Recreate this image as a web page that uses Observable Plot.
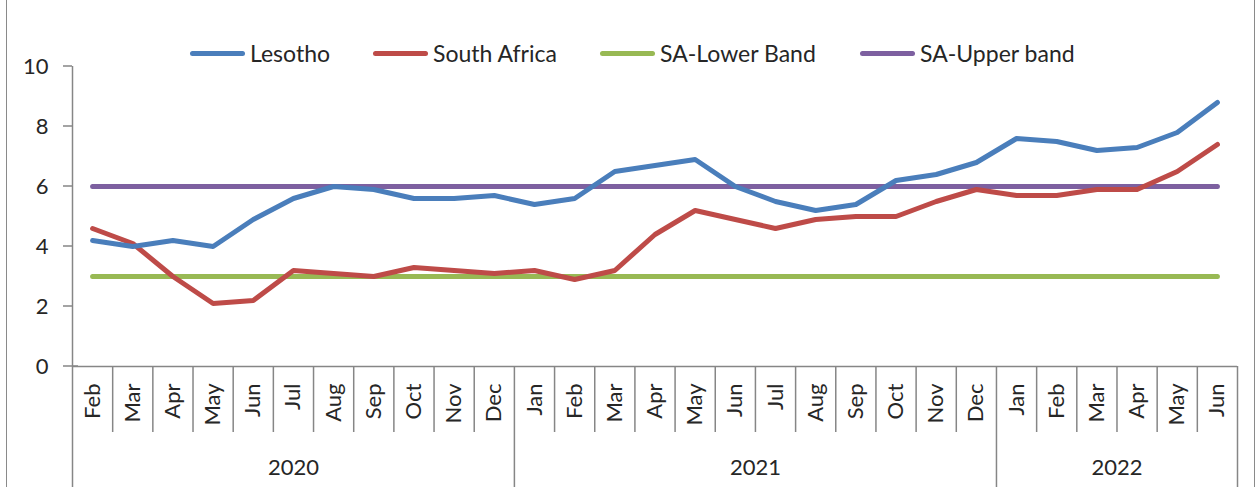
<!DOCTYPE html>
<html><head><meta charset="utf-8">
<script src="https://cdn.jsdelivr.net/npm/d3@7"></script>
<script src="https://cdn.jsdelivr.net/npm/@observablehq/plot@0.6"></script>
<style>
body{margin:0;background:#fff;}
#wrap{position:relative;width:1258px;height:487px;overflow:hidden;font-family:Lato,"Open Sans",sans-serif;color:#262626;}
#wrap svg{position:absolute;left:0;top:0;}
.frame{position:absolute;top:0;height:487px;width:0;border-left:1.5px solid #8a8a8a;}
.leg{position:absolute;top:40px;height:26px;display:flex;align-items:center;font-size:23px;white-space:nowrap;}
.leg .sw{width:55px;height:5px;border-radius:3px;margin-right:5px;}
</style></head><body><div id="wrap"></div>
<script>
const months = ["Feb","Mar","Apr","May","Jun","Jul","Aug","Sep","Oct","Nov","Dec",
  "Jan","Feb","Mar","Apr","May","Jun","Jul","Aug","Sep","Oct","Nov","Dec",
  "Jan","Feb","Mar","Apr","May","Jun"];
const yearLabels = ["2020","2021","2022"];
const yearMonthCounts = [11,12,6];
const lesotho = [4.2,4.0,4.2,4.0,4.9,5.6,6.0,5.9,5.6,5.6,5.7,
  5.4,5.6,6.5,6.7,6.9,6.0,5.5,5.2,5.4,6.2,6.4,6.8,
  7.6,7.5,7.2,7.3,7.8,8.8];
const southAfrica = [4.6,4.1,3.0,2.1,2.2,3.2,3.1,3.0,3.3,3.2,3.1,
  3.2,2.9,3.2,4.4,5.2,4.9,4.6,4.9,5.0,5.0,5.5,5.9,
  5.7,5.7,5.9,5.9,6.5,7.4];
const saLower = [3,3,3,3,3,3,3,3,3,3,3,3,3,3,3,3,3,3,3,3,3,3,3,3,3,3,3,3,3];
const saUpper = [6,6,6,6,6,6,6,6,6,6,6,6,6,6,6,6,6,6,6,6,6,6,6,6,6,6,6,6,6];
const seriesNames = ["Lesotho","South Africa","SA-Lower Band","SA-Upper band"];
const seriesColors = ["#4a7ebb","#be4b48","#98b954","#7d60a0"];
const yTicks = [0,2,4,6,8,10];

const seriesValues = [lesotho, southAfrica, saLower, saUpper];
const rows = [];
seriesValues.forEach((vals, s) => vals.forEach((v, i) => rows.push({series: seriesNames[s], i, v})));
const drawOrder = ["SA-Lower Band","SA-Upper band","South Africa","Lesotho"];

const n = months.length;
const monthBounds = d3.range(n + 1).map(k => k - 0.5);
const yearBounds = [ -0.5 ];
let acc = -0.5;
yearMonthCounts.forEach(c => { acc += c; yearBounds.push(acc); });
const yearCenters = yearLabels.map((y, k) => (yearBounds[k] + yearBounds[k + 1]) / 2);
const monthOnly = monthBounds.filter(b => !yearBounds.includes(b));
const axisGray = "#868686";

const plot = Plot.plot({
  width: 1258, height: 487,
  marginLeft: 72, marginRight: 21, marginTop: 66, marginBottom: 121,
  style: {fontFamily: "Lato, 'Open Sans', sans-serif", fontSize: "22px", color: "#262626", background: "transparent"},
  x: {type: "linear", domain: [-0.5, n - 0.5], axis: null},
  y: {type: "linear", domain: [0, 10], axis: null},
  marks: [
    Plot.ruleX(monthOnly, {y1: 0, y2: -2.2, stroke: axisGray, strokeWidth: 1.5}),
    Plot.ruleX(yearBounds, {y1: 0, y2: -4.1, stroke: axisGray, strokeWidth: 1.5}),
    Plot.ruleX([-0.5], {y1: 0, y2: 10, stroke: axisGray, strokeWidth: 1.5}),
    Plot.ruleY([0], {x1: -0.5, x2: n - 0.5, stroke: axisGray, strokeWidth: 1.5}),
    Plot.text(yTicks, {x: -0.5, y: d => d, text: d => String(d), dx: -24, textAnchor: "end", fill: "#262626", fontSize: 22}),
    ...drawOrder.map(name => Plot.line(rows.filter(r => r.series === name), {
      x: "i", y: "v", stroke: seriesColors[seriesNames.indexOf(name)], strokeWidth: 5,
      strokeLinecap: "round", strokeLinejoin: "round"
    })),
    Plot.text(months, {x: (d, i) => i, y: 0, text: d => d, rotate: -90, textAnchor: "end", lineAnchor: "middle", dy: 17, fill: "#262626", fontSize: 22}),
    Plot.text(yearLabels, {x: (d, k) => yearCenters[k], y: 0, text: d => d, dy: 101, fill: "#262626", fontSize: 22})
  ]
});

const wrap = document.getElementById("wrap");
wrap.appendChild(plot);
const ys = plot.scale("y");
const xs = plot.scale("x");
const svg = d3.select(plot);
svg.append("g").selectAll("line").data(yTicks).join("line")
  .attr("x1", xs.apply(-0.5) - 9).attr("x2", d => xs.apply(-0.5) + (d === 0 ? 6 : 0))
  .attr("y1", d => ys.apply(d)).attr("y2", d => ys.apply(d))
  .attr("stroke", axisGray).attr("stroke-width", 1.5);

[6, 1254].forEach(x => { const f = document.createElement("div"); f.className = "frame"; f.style.left = x + "px"; wrap.appendChild(f); });

const legLeft = [190, 373, 600, 860];
seriesNames.forEach((name, s) => {
  const d = document.createElement("div");
  d.className = "leg";
  d.style.left = legLeft[s] + "px";
  d.innerHTML = `<div class="sw" style="background:${seriesColors[s]}"></div><span>${name}</span>`;
  wrap.appendChild(d);
});
</script></body></html>
